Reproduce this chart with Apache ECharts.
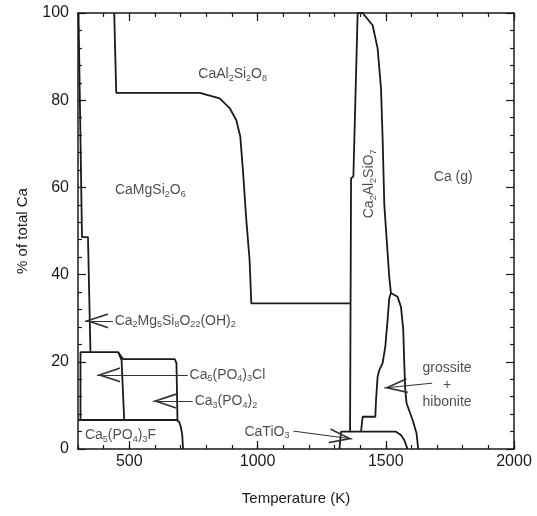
<!DOCTYPE html>
<html>
<head>
<meta charset="utf-8">
<script src="https://cdn.jsdelivr.net/npm/echarts@6/dist/echarts.min.js"></script>
<style>
	html, body { margin: 0; padding: 0; background: #fff; }
	#chart { width: 537px; height: 516px; }
</style>
</head>
<body>
<div id="chart"></div>
<script>
// axis ticks
const xMajorTicks = [500, 1000, 1500, 2000];

// phase boundaries, [temperature K, cumulative % of total Ca]
const amphiboleEdge = [[302, 100], [315.6, 48.6], [338.9, 48.6], [348.6, 22.2]];
const chlorapatiteEdge = [[309.7, 6.65], [309.7, 22.2], [456.8, 22.2], [476.2, 20.6], [677.3, 20.6], [683.9, 19.7], [687.8, 6.65]];
const whitlockiteSplit = [[456.8, 22.2], [469.9, 20.4], [480.1, 6.65]];
const fluorapatiteEdge = [[300, 6.65], [683.9, 6.65], [694.8, 6.2], [700.7, 5.1], [706.5, 3.2], [709.6, 0]];
const anorthiteEdge = [[441.2, 100], [449, 81.7], [774.6, 81.7], [852.4, 80.4], [891.3, 78.2], [917.4, 75.4],
	[932.9, 71.6], [943, 64], [956.3, 52.5], [969.1, 43.3], [975.7, 33.4], [1360.8, 33.4]];
const gehleniteLeft = [[1390.4, 100], [1373.7, 62.5], [1364.7, 62.1], [1360.8, 3.97]];
const gehleniteRight = [[1390.4, 100], [1409.8, 100], [1448.7, 97.2], [1468.2, 91.9], [1481.4, 82.7], [1487.7, 71.3],
	[1494.3, 56], [1507.1, 45], [1513.7, 39.4], [1520, 35.8], [1513.7, 34.6], [1507.1, 29.6], [1498.2, 23.5],
	[1487.7, 19.7], [1474.8, 18.1], [1468.2, 16.6], [1462, 11.2], [1459.3, 7.4], [1409.8, 7.4], [1403.6, 3.97]];
const grossiteEdge = [[1520, 35.8], [1546, 34.9], [1559.3, 32.6], [1568.2, 27.3], [1572.1, 19.7], [1576, 13.5],
	[1581.1, 10.5], [1604.4, 6.7], [1620, 3.6], [1626.5, 0]];
const perovskiteEdge = [[1319.2, 0], [1325.8, 3.97], [1539.8, 3.97], [1559.2, 3.2], [1572.1, 2.06], [1581, 0.6], [1585, 0]];

const boundaries = [amphiboleEdge, chlorapatiteEdge, whitlockiteSplit, fluorapatiteEdge, anorthiteEdge,
	gehleniteLeft, gehleniteRight, grossiteEdge, perovskiteEdge];

// phase names and where they sit (data coords)
const phaseNames = [
	{ text: 'CaAl{s|2}Si{s|2}O{s|8}', at: [903, 86] },
	{ text: 'CaMgSi{s|2}O{s|6}', at: [582, 59.4] },
	{ text: 'Ca (g)', at: [1763, 62.4] },
	{ text: 'Ca{s|2}Al{s|2}SiO{s|7}', at: [1436, 60.8], rotate: 90 },
	{ text: 'Ca{s|2}Mg{s|5}Si{s|8}O{s|22}(OH){s|2}', at: [443, 29.4], align: 'left' },
	{ text: 'Ca{s|5}(PO{s|4}){s|3}Cl', at: [735, 17.0], align: 'left' },
	{ text: 'Ca{s|3}(PO{s|4}){s|2}', at: [755, 11.0], align: 'left' },
	{ text: 'Ca{s|5}(PO{s|4}){s|3}F', at: [327, 3.2], align: 'left' },
	{ text: 'CaTiO{s|3}', at: [949, 3.9], align: 'left' },
	{ text: 'grossite\n+\nhibonite', at: [1739, 14.7] }
];

// pointer arrows: [fromT, fromY, tipT, tipY]
const arrows = [
	[436, 29.4, 327, 29.4],
	[728, 17.0, 374, 17.0],
	[747, 11.0, 592, 11.0],
	[1140, 4.1, 1370, 2.3],
	[1681, 15.1, 1494, 14.0]
];

// open chevron, tip at the centre of a square box so the tip sits on the end point
const arrowHead = 'path://M0,0 M36,36 M18,18 L24,36 L22.6,36 L18,22 L13.4,36 L12,36 Z';
const ink = '#1a1a1a';
const font = 'Liberation Sans, Arial, sans-serif';

const axisFont = { fontFamily: font, fontSize: 16, color: ink };

const chart = echarts.init(document.getElementById('chart'));

const xBase = (pos, major, showLabel) => ({
	type: 'value',
	position: pos,
	min: 300,
	max: 2000,
	interval: major ? undefined : 100,
	axisLine: { show: major, onZero: false, lineStyle: { color: ink, width: 1.5 } },
	axisTick: major
		? { inside: true, length: 8, customValues: xMajorTicks, lineStyle: { color: ink, width: 1.2 } }
		: { inside: true, length: 4, lineStyle: { color: ink, width: 1.2 } },
	axisLabel: showLabel
		? Object.assign({ show: true, margin: 5, customValues: xMajorTicks, formatter: v => String(v) }, axisFont)
		: { show: false },
	splitLine: { show: false }
});

const yBase = (pos, showLabel) => ({
	type: 'value',
	position: pos,
	min: 0,
	max: 100,
	interval: 20,
	name: showLabel ? '% of total Ca' : '',
	nameLocation: 'middle',
	nameGap: 48,
	nameTextStyle: { fontFamily: font, fontSize: 15, color: ink },
	axisLine: { show: true, onZero: false, lineStyle: { color: ink, width: 1.5 } },
	axisTick: { inside: true, length: 8, lineStyle: { color: ink, width: 1.2 } },
	minorTick: { show: true, splitNumber: 5, length: 4, lineStyle: { color: ink, width: 1.2 } },
	axisLabel: showLabel ? Object.assign({ show: true, margin: 9 }, axisFont) : { show: false },
	splitLine: { show: false }
});

const bottomMajor = xBase('bottom', true, true);
bottomMajor.name = 'Temperature (K)';
bottomMajor.nameLocation = 'middle';
bottomMajor.nameGap = 42;
bottomMajor.nameTextStyle = { fontFamily: font, fontSize: 15, color: ink };

const option = {
	animation: false,
	backgroundColor: '#fff',
	grid: { left: 78, right: 23, top: 13, bottom: 67, containLabel: false },
	xAxis: [bottomMajor, xBase('bottom', false, false), xBase('top', true, false), xBase('top', false, false)],
	yAxis: [yBase('left', true), yBase('right', false)],
	series: boundaries.map(pts => ({
		type: 'line',
		data: pts,
		symbol: 'none',
		silent: true,
		lineStyle: { color: ink, width: 1.8 },
		z: 3
	})).concat([{
		type: 'scatter',
		symbolSize: 0,
		silent: true,
		data: phaseNames.map(p => ({
			value: p.at,
			label: {
				show: true,
				position: 'inside',
				formatter: p.text,
				align: p.align || 'center',
				rotate: p.rotate || 0
			}
		})),
		label: {
			fontFamily: font,
			fontSize: 14,
			lineHeight: 17,
			color: '#1e1e1e',
			rich: {
				s: { fontSize: 9, lineHeight: 9, verticalAlign: 'bottom', color: '#1e1e1e', fontFamily: font }
			}
		},
		markLine: {
			silent: true,
			animation: false,
			symbol: ['none', arrowHead],
			symbolSize: 46,
			label: { show: false },
			lineStyle: { color: '#333', width: 1, type: 'solid' },
			data: arrows.map(a => [{ coord: [a[0], a[1]] }, { coord: [a[2], a[3]] }])
		},
		z: 4
	}])
};

chart.setOption(option);
</script>
</body>
</html>
